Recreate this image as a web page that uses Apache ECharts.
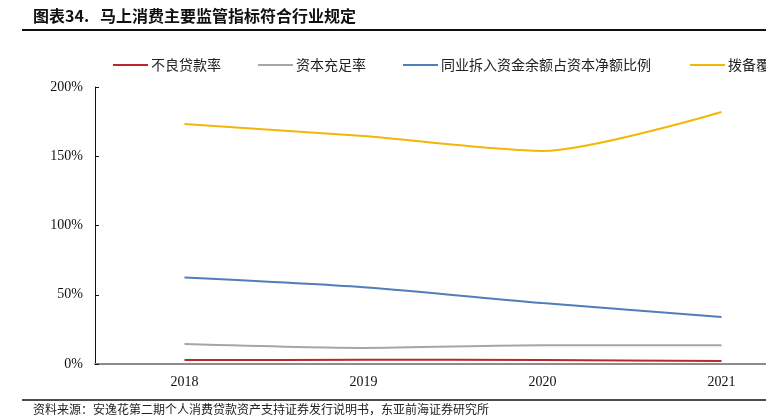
<!DOCTYPE html>
<html><head><meta charset="utf-8">
<script src="https://cdn.jsdelivr.net/npm/echarts@6/dist/echarts.min.js"></script>
<style>html,body{margin:0;padding:0;background:#fff}#c{width:766px;height:420px}</style>
</head><body><div id="c"></div>
<script>
const categories = ['2018', '2019', '2020', '2021'];
const seriesNames = ['不良贷款率', '资本充足率', '同业拆入资金余额占资本净额比例', '拨备覆盖率'];
const npl = [2.9, 3.0, 2.9, 2.2];
const car = [14.4, 11.6, 13.6, 13.6];
const interbank = [62.5, 55.5, 44.0, 34.0];
const provision = [173.2, 164.6, 153.8, 182.0];
const yTicks = [0, 50, 100, 150, 200];
const colors = ['#B8282E', '#A6A6A6', '#4F7EBB', '#F2B705'];
const values = [npl, car, interbank, provision];
const legendLefts = [113, 258, 403, 690];

const chart = echarts.init(document.getElementById('c'));
const legendFont = {fontFamily: 'Noto Sans CJK SC', fontSize: 14, color: '#222', padding: [0, 0, 0, -2]};
chart.setOption({
  animation: false,
  legend: seriesNames.map((n, i) => ({
    data: [n], left: legendLefts[i], top: 58, itemWidth: 35, itemHeight: 10,
    icon: 'path://M0,4L35,4L35,6L0,6Z', itemGap: 0, textStyle: legendFont, padding: 0
  })),
  grid: {left: 95, right: -45, top: 87, bottom: 56, outerBoundsMode: 'none'},
  xAxis: {
    type: 'category', data: categories, boundaryGap: true,
    axisLine: {lineStyle: {color: '#8c8c8c', width: 2}},
    axisTick: {show: false},
    axisLabel: {fontFamily: 'Liberation Serif', fontSize: 14, color: '#111', margin: 11}
  },
  yAxis: {
    type: 'value', min: 0, max: 200, interval: 50,
    axisLine: {show: true, lineStyle: {color: '#111', width: 1}},
    axisTick: {show: true, inside: true, length: 4, lineStyle: {color: '#111'}},
    splitLine: {show: false},
    axisLabel: {fontFamily: 'Liberation Serif', fontSize: 14, color: '#111', margin: 12,
      formatter: v => yTicks.includes(v) ? v + '%' : ''}
  },
  series: seriesNames.map((n, i) => ({
    name: n, type: 'line', data: values[i], smooth: 0.25, symbol: 'none',
    lineStyle: {color: colors[i], width: 2}, itemStyle: {color: colors[i]}
  })),
  graphic: [
    {type: 'text', left: 33, top: 8, style: {text: '图表34.', font: 'bold 16px "Noto Sans CJK SC"', fill: '#111'}},
    {type: 'text', left: 100, top: 8, style: {text: '马上消费主要监管指标符合行业规定', font: 'bold 16px "Noto Sans CJK SC"', fill: '#111'}},
    {type: 'line', shape: {x1: 22, y1: 30, x2: 766, y2: 30}, style: {stroke: '#111', lineWidth: 2}},
    {type: 'line', shape: {x1: 22, y1: 400, x2: 766, y2: 400}, style: {stroke: '#111', lineWidth: 1.5}},
    {type: 'text', left: 33, top: 403, style: {text: '资料来源：安逸花第二期个人消费贷款资产支持证券发行说明书，东亚前海证券研究所',
      font: '12px "Noto Sans CJK SC"', fill: '#222'}}
  ]
});
</script></body></html>
